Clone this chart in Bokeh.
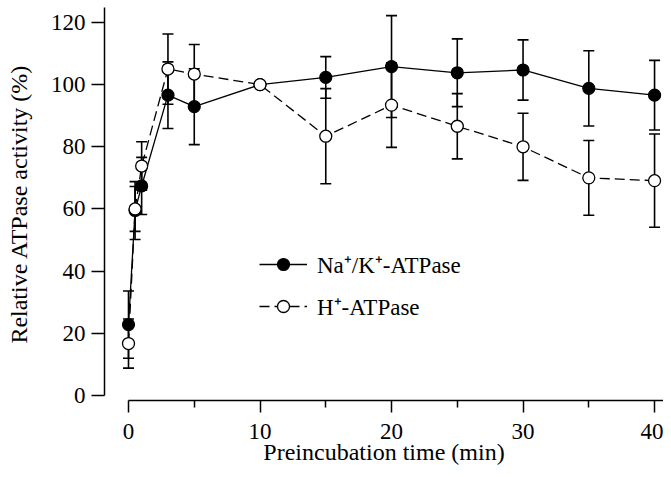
from bokeh.plotting import figure
from bokeh.models import (ColumnDataSource, Whisker, TeeHead, Legend, LegendItem,
                          FixedTicker)
from bokeh.embed import file_html
from bokeh.resources import INLINE

# ---- data ----
time_min = [0, 0.5, 1, 3, 5, 10, 15, 20, 25, 30, 35, 40]
nak_activity = [22.8, 59.5, 67.4, 96.6, 92.9, 100.0, 102.3, 105.8, 103.8, 104.7, 98.8, 96.6]
nak_err = [10.8, 9.3, 9.2, 10.7, 12.2, 0.0, 6.7, 16.4, 10.9, 9.7, 12.1, 11.2]
h_activity = [16.7, 60.0, 73.8, 105.0, 103.4, 100.0, 83.4, 93.4, 86.6, 80.0, 70.0, 69.1]
h_err = [7.9, 7.2, 7.8, 11.3, 9.5, 0.0, 15.3, 13.6, 10.5, 10.8, 12.0, 15.0]

x_ticks = [0, 10, 20, 30, 40]
x_minor_ticks = [5, 15, 25, 35]
y_ticks = [0, 20, 40, 60, 80, 100, 120]

nak_label = "Na\u207a/K\u207a-ATPase"
h_label = "H\u207a-ATPase"
x_title = "Preincubation time (min)"
y_title = "Relative ATPase activity (%)"

FONT = "Liberation Serif"

p = figure(frame_width=559, frame_height=393,
           x_range=(-1.825, 40.68), y_range=(-1.61, 124.8),
           output_backend="svg", toolbar_location=None,
           min_border_left=104, min_border_right=0,
           min_border_top=7, min_border_bottom=69)
p.xgrid.visible = False
p.ygrid.visible = False
p.outline_line_color = None
p.background_fill_color = "white"
p.border_fill_color = "white"


def whisker_source(vals, errs):
    keep = [i for i, e in enumerate(errs) if e > 0]
    return ColumnDataSource(dict(
        base=[time_min[i] for i in keep],
        upper=[vals[i] + errs[i] for i in keep],
        lower=[vals[i] - errs[i] for i in keep],
    ))


for vals, errs in ((nak_activity, nak_err), (h_activity, h_err)):
    w = Whisker(source=whisker_source(vals, errs), base="base", upper="upper",
                lower="lower", dimension="height", line_color="black", line_width=1.6,
                upper_head=TeeHead(size=11, line_color="black", line_width=1.6),
                lower_head=TeeHead(size=11, line_color="black", line_width=1.6))
    p.add_layout(w)

h_line = p.line(time_min, h_activity, line_color="black", line_width=1.3, line_dash="10 5")
nak_line = p.line(time_min, nak_activity, line_color="black", line_width=1.3)
nak_pts = p.scatter(time_min, nak_activity, marker="circle", size=12,
                    fill_color="black", line_color="black", line_width=1.2)
h_pts = p.scatter(time_min, h_activity, marker="circle", size=12,
                  fill_color="white", line_color="black", line_width=1.3)

legend = Legend(items=[LegendItem(label=nak_label, renderers=[nak_line, nak_pts]),
                       LegendItem(label=h_label, renderers=[h_line, h_pts])],
                location=(155, 78), glyph_width=48, glyph_height=30, label_height=30,
                spacing=10, padding=0, margin=0, border_line_color=None,
                background_fill_alpha=0, label_text_font=FONT,
                label_text_font_size="23px", label_standoff=10,
                label_text_color="black")
p.add_layout(legend)

# axes
xa = p.xaxis[0]
xa.ticker = FixedTicker(ticks=x_ticks, minor_ticks=x_minor_ticks)
xa.bounds = (0, 40.68)
xa.major_tick_out = 12
xa.major_tick_in = 0
xa.minor_tick_out = 7
xa.minor_tick_in = 0
xa.axis_label = x_title

ya = p.yaxis[0]
ya.ticker = FixedTicker(ticks=y_ticks, minor_ticks=[])
ya.bounds = (0, 124.8)
ya.major_tick_out = 13
ya.major_tick_in = 0
ya.minor_tick_out = 0
ya.minor_tick_in = 0
ya.axis_label = y_title

for ax in (xa, ya):
    ax.axis_line_width = 1.5
    ax.axis_line_color = "black"
    ax.major_tick_line_width = 1.5
    ax.major_tick_line_color = "black"
    ax.minor_tick_line_width = 1.5
    ax.minor_tick_line_color = "black"
    ax.major_label_text_font = FONT
    ax.major_label_text_font_size = "23px"
    ax.major_label_text_color = "black"
    ax.axis_label_text_font = FONT
    ax.axis_label_text_font_size = "24px"
    ax.axis_label_text_font_style = "normal"
    ax.axis_label_text_color = "black"

xa.major_label_standoff = 11
xa.axis_label_standoff = -3
ya.major_label_standoff = 6
ya.axis_label_standoff = 16

open("out.html", "w").write(file_html(p, INLINE))
